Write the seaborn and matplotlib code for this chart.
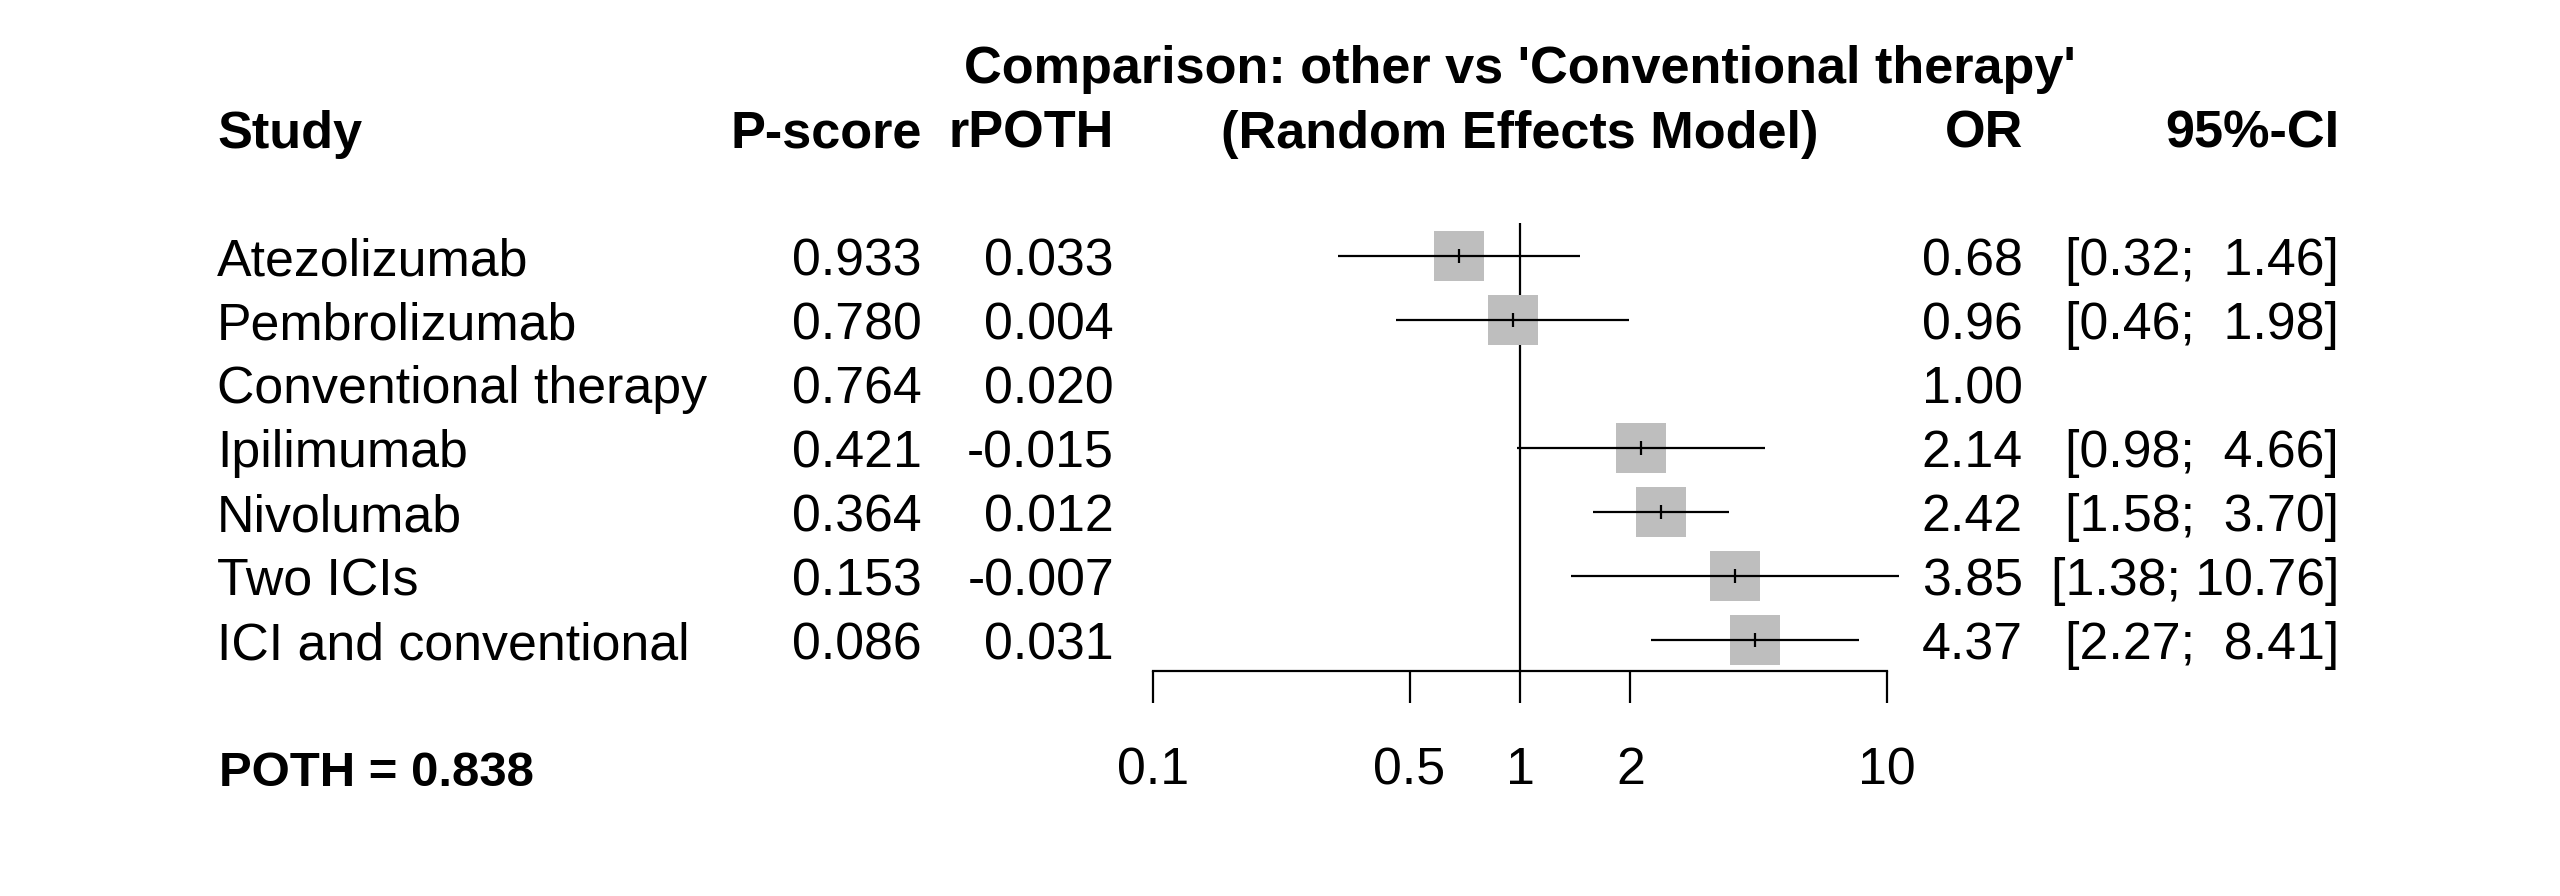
import numpy as np
import pandas as pd
import seaborn as sns
import matplotlib.pyplot as plt
import matplotlib.transforms as mtransforms
from matplotlib.ticker import NullLocator

studies = ["Atezolizumab", "Pembrolizumab", "Conventional therapy", "Ipilimumab",
           "Nivolumab", "Two ICIs", "ICI and conventional"]
p_score = [0.933, 0.780, 0.764, 0.421, 0.364, 0.153, 0.086]
rpoth = [0.033, 0.004, 0.020, -0.015, 0.012, -0.007, 0.031]
odds_ratio = [0.68, 0.96, 1.00, 2.14, 2.42, 3.85, 4.37]
ci_lower = [0.32, 0.46, np.nan, 0.98, 1.58, 1.38, 2.27]
ci_upper = [1.46, 1.98, np.nan, 4.66, 3.70, 10.76, 8.41]
axis_ticks = [0.1, 0.5, 1, 2, 10]
axis_labels = ["0.1", "0.5", "1", "2", "10"]
poth = 0.838
title_line1 = "Comparison: other vs 'Conventional therapy'"
title_line2 = "(Random Effects Model)"

df = pd.DataFrame({"study": studies, "pscore": p_score, "rpoth": rpoth,
                   "OR": odds_ratio, "lower": ci_lower, "upper": ci_upper})
df["row"] = np.arange(len(df))
est = df.dropna(subset=["lower"])

sns.set_theme(style="white")
plt.rcParams["font.family"] = ["Liberation Sans", "DejaVu Sans"]
plt.rcParams["text.color"] = "black"
plt.rcParams["xtick.color"] = "black"
plt.rcParams["xtick.labelcolor"] = "black"
FS = 37.4

W, H = 2560, 896
fig = plt.figure(figsize=(W / 100, H / 100), dpi=100)
# forest panel: x from 1153 to 1887 px, y from 223 to 671 px
ax = fig.add_axes([1153 / W, 1 - 671 / H, (1887 - 1153) / W, (671 - 223) / H])
ax.set_xscale("log")
ax.set_xlim(0.1, 10)
ax.set_ylim(6.484, -0.516)

lw = 1.6
sns.scatterplot(data=est, x="OR", y="row", marker="s", s=1246, color="#BEBEBE",
                linewidth=0, ax=ax, zorder=2, clip_on=False)
ax.hlines(est["row"], est["lower"], est["upper"], color="black", lw=lw,
          zorder=3, clip_on=False)
sns.scatterplot(data=est, x="OR", y="row", marker="|", s=100, color="black",
                linewidth=lw, ax=ax, zorder=4, clip_on=False)
ax.axvline(1, color="black", lw=lw, zorder=1)

for side in ["top", "left", "right"]:
    ax.spines[side].set_visible(False)
ax.spines["bottom"].set_linewidth(lw)
ax.spines["bottom"].set_color("black")
ax.set_xticks(axis_ticks, labels=axis_labels)
ax.xaxis.set_minor_locator(NullLocator())
ax.tick_params(axis="x", direction="out", length=23, width=lw, pad=31,
               labelsize=FS, colors="black", bottom=True)
ax.set_yticks([])
ax.set_xlabel("")
ax.set_ylabel("")
ax.patch.set_alpha(0)

# text columns: x in figure fraction, y in row units, baseline shifted down
row_tr = mtransforms.blended_transform_factory(fig.transFigure, ax.transData)
row_tr = mtransforms.offset_copy(row_tr, fig=fig, x=0, y=-19, units="dots")

for _, r in df.iterrows():
    y = r["row"]
    ax.text(217 / W, y, r["study"], transform=row_tr, ha="left", va="baseline", fontsize=FS)
    ax.text(922 / W, y, f"{r['pscore']:.3f}", transform=row_tr, ha="right", va="baseline", fontsize=FS)
    ax.text(1114 / W, y, f"{r['rpoth']:.3f}", transform=row_tr, ha="right", va="baseline", fontsize=FS)
    ax.text(2023 / W, y, f"{r['OR']:.2f}", transform=row_tr, ha="right", va="baseline", fontsize=FS)
    if not np.isnan(r["lower"]):
        ci = f"[{r['lower']:.2f}; {r['upper']:>5.2f}]"
        ax.text(2339 / W, y, ci, transform=row_tr, ha="right", va="baseline", fontsize=FS)

# headers
y1 = 1 - 83 / H
y2 = 1 - 148 / H
hb = dict(fontsize=37.6, fontweight="bold", va="baseline")
fig.text(1520 / W, y1, title_line1, ha="center", **hb)
fig.text(217 / W, y2, "Study", ha="left", **hb)
fig.text(922 / W, y2, "P-score", ha="right", **hb)
fig.text(1114 / W, y2, "rPOTH", ha="right", **hb)
fig.text(1520 / W, y2, title_line2, ha="center", **hb)
fig.text(2023 / W, y2, "OR", ha="right", **hb)
fig.text(2339 / W, y2, "95%-CI", ha="right", **hb)

fig.text(219 / W, 1 - 786 / H, f"POTH = {poth:.3f}", ha="left", va="baseline",
         fontsize=35.4, fontweight="bold")

fig.savefig("out.png", dpi=100, facecolor="white")
